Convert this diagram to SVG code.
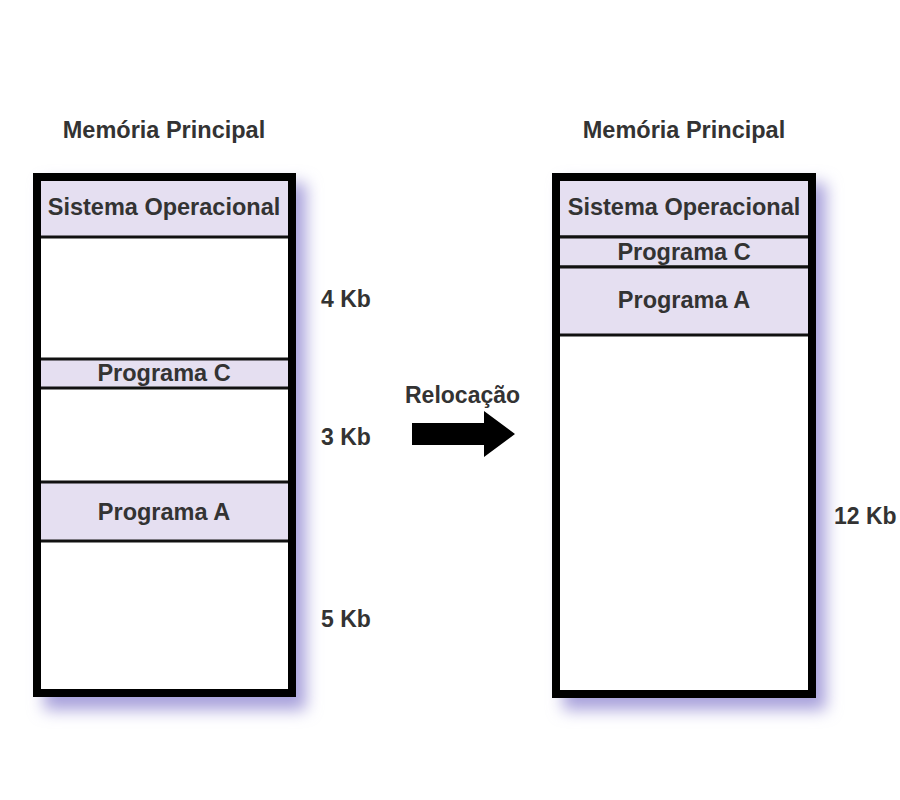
<svg xmlns="http://www.w3.org/2000/svg" width="900" height="800" viewBox="0 0 900 800">
<defs>
<filter id="shadow" x="-20%" y="-20%" width="140%" height="140%">
<feGaussianBlur stdDeviation="8"/>
</filter>
</defs>
<style>
text{font-family:"Liberation Sans",Arial,sans-serif;font-weight:bold;fill:#333}
.lbl{font-size:23.5px;text-anchor:middle}
.side{font-size:23px}
.box{fill:none;stroke:#000;stroke-width:8}
.seg{fill:#e5dff1;stroke:#111;stroke-width:3}
.sh{fill:#a9a2dc;filter:url(#shadow)}
</style>
<rect width="900" height="800" fill="#fff"/>
<g id="left-memory">
<rect class="sh" x="44" y="183" width="262" height="527"/>
<rect x="37" y="177" width="255" height="516" fill="#fff"/>
<rect class="seg" x="37" y="177" width="255" height="60"/>
<rect class="seg" x="37" y="359" width="255" height="29"/>
<rect class="seg" x="37" y="482" width="255" height="59"/>
<rect class="box" x="37" y="177" width="255" height="516"/>
<text class="lbl" x="164" y="215">Sistema Operacional</text>
<text class="lbl" x="164" y="381">Programa C</text>
<text class="lbl" x="164" y="520">Programa A</text>
</g>
<g id="right-memory">
<rect class="sh" x="563" y="183" width="263" height="527"/>
<rect x="556" y="177" width="256" height="517" fill="#fff"/>
<rect class="seg" x="556" y="177" width="256" height="60"/>
<rect class="seg" x="556" y="237" width="256" height="30"/>
<rect class="seg" x="556" y="267" width="256" height="68"/>
<rect class="box" x="556" y="177" width="256" height="517"/>
<text class="lbl" x="684" y="215">Sistema Operacional</text>
<text class="lbl" x="684" y="260">Programa C</text>
<text class="lbl" x="684" y="308">Programa A</text>
</g>
<g id="titles">
<text class="lbl" x="164" y="138">Memória Principal</text>
<text class="lbl" x="684" y="138">Memória Principal</text>
</g>
<g id="sizes">
<text class="side" x="321" y="307">4 Kb</text>
<text class="side" x="321" y="445">3 Kb</text>
<text class="side" x="321" y="627">5 Kb</text>
<text class="side" x="834" y="524">12 Kb</text>
</g>
<g id="connectors">
<polygon points="412,423 484,423 484,411 515,434 484,457 484,445 412,445" fill="#000"/>
<text class="side" x="405" y="403">Relocação</text>
</g>
</svg>
